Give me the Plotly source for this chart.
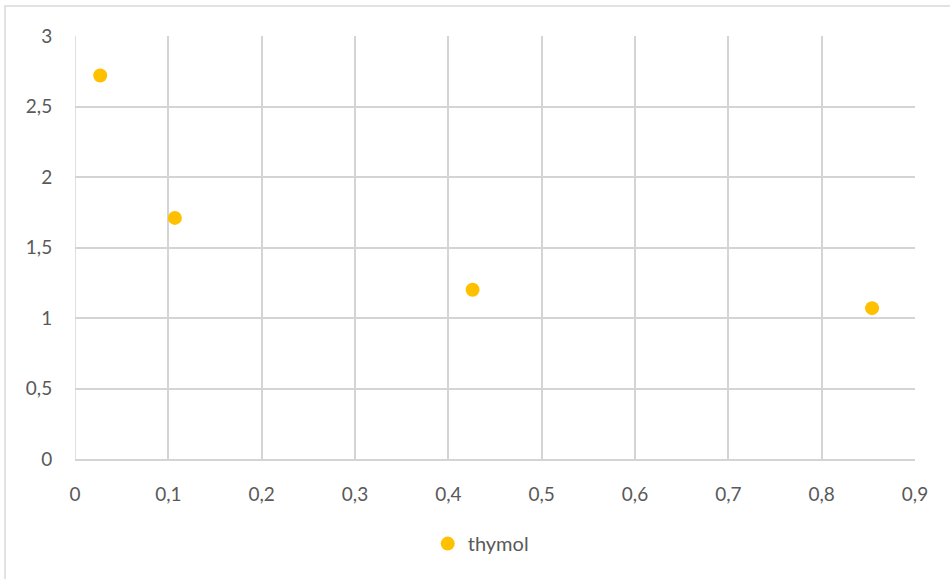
import plotly.graph_objects as go

# thymol measurements
x_values = [0.027, 0.107, 0.426, 0.854]
y_values = [2.72, 1.71, 1.20, 1.07]
series_name = "thymol"

x_ticks = [0, 0.1, 0.2, 0.3, 0.4, 0.5, 0.6, 0.7, 0.8, 0.9]
y_ticks = [0, 0.5, 1, 1.5, 2, 2.5, 3]

grid = "#d4d4d4"
text = "#595959"

fig = go.Figure()
fig.add_trace(go.Scatter(
    x=x_values, y=y_values, mode="markers", name=series_name,
    marker=dict(color="#FFC000", size=14, line=dict(width=0)),
))

fig.update_layout(
    width=950, height=579,
    margin=dict(l=75, r=35, t=36, b=120),
    paper_bgcolor="white", plot_bgcolor="white",
    separators=",.",
    font=dict(family="Lato, Open Sans, sans-serif", size=19, color=text),
    showlegend=True,
    legend=dict(orientation="h", x=0.483, xanchor="center", y=-0.2, yanchor="middle",
                font=dict(size=20, color=text), itemsizing="trace", itemwidth=30),
    xaxis=dict(range=[0, 0.9], tickvals=x_ticks, showgrid=True, gridcolor=grid, gridwidth=1.5,
               zeroline=False, showline=True, linecolor=grid, linewidth=1.5,
               ticks="outside", ticklen=17, tickcolor="rgba(0,0,0,0)", mirror=False),
    yaxis=dict(range=[0, 3], tickvals=y_ticks, showgrid=True, gridcolor=grid, gridwidth=1.5,
               zeroline=False, showline=False,
               ticks="outside", ticklen=18, tickcolor="rgba(0,0,0,0)"),
    shapes=[
        dict(type="line", xref="x", yref="paper", x0=0, x1=0, y0=0, y1=1,
             line=dict(color=grid, width=1.5)),
        dict(type="rect", xref="paper", yref="paper", x0=-0.0833, x1=1.2, y0=-0.5, y1=1.0709,
             line=dict(color="#d9d9d9", width=1.5), layer="below"),
    ],
)

fig.write_html("out.html")
